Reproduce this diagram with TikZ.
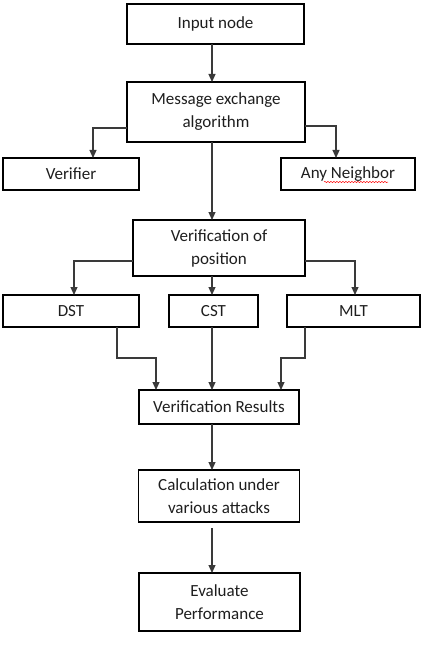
\documentclass[tikz,border=0pt]{standalone}
\usepackage{fontspec}
\setmainfont{Carlito}
\usetikzlibrary{arrows.meta,calc,decorations.pathmorphing}
\definecolor{txt}{HTML}{1E1E1E}
\definecolor{ln}{HTML}{3A3A3A}
\begin{document}
\begin{tikzpicture}[x=1pt,y=-1pt,
  box/.style={draw=black,line width=1.3pt,fill=white,inner sep=0pt,outer sep=0pt,
    align=center,text=txt,font=\fontsize{17}{23}\selectfont},
  arr/.style={draw=ln,line width=1.1pt,-{Triangle[length=8pt,width=7pt]}}]
\useasboundingbox (0,0) rectangle (423,655);
\coordinate (axis) at (212,0);
\node[box,minimum width=177pt,minimum height=40pt] (in) at (215.5,24) {Input node};
\node[box,minimum width=178pt,minimum height=60pt] (msg) at (216,112) {Message exchange\\algorithm};
\node[box,minimum width=136pt,minimum height=32pt] (ver) at (71,174) {Verifier};
\node[box,minimum width=134pt,minimum height=32pt] (any) at (348,174) {Any Neighbor};
\node[box,minimum width=172pt,minimum height=56pt] (vop) at (219,248) {Verification of\\position};
\node[box,minimum width=136pt,minimum height=32pt] (dst) at (71,311) {DST};
\node[box,minimum width=89pt,minimum height=32pt] (cst) at (213.5,311) {CST};
\node[box,minimum width=133pt,minimum height=32pt] (mlt) at (353.5,311) {MLT};
\node[box,minimum width=160pt,minimum height=34pt] (vr) at (219,407) {Verification Results};
\node[box,minimum width=161pt,minimum height=52pt] (calc) at (219,496) {Calculation under\\various attacks};
\node[box,minimum width=161pt,minimum height=58pt] (eval) at (219.5,602) {Evaluate\\Performance};
% spell-check underline
\draw[red,line width=0.5pt,decorate,decoration={snake,amplitude=0.6pt,segment length=3pt}]
  ($(any.center)+(-24,8)$) -- ($(any.center)+(40,8)$);
% connectors
\draw[arr] (in.south -| axis) -- (msg.north -| axis);
\draw[arr] ([yshift=-16pt]msg.west) -| ([xshift=22pt]ver.north);
\draw[arr] ([yshift=-14pt]msg.east) -| ([xshift=-12pt]any.north);
\draw[arr] (msg.south -| axis) -- (vop.north -| axis);
\draw[arr] ([yshift=-13pt]vop.west) -| ([xshift=3pt]dst.north);
\draw[arr] (vop.south -| axis) -- (cst.north -| axis);
\draw[arr] ([yshift=-13pt]vop.east) -| ([xshift=1.5pt]mlt.north);
\draw[arr] ([xshift=46pt]dst.south) -- ++(0,31) -| ([xshift=-63pt]vr.north);
\draw[arr] (cst.south -| axis) -- (vr.north -| axis);
\draw[arr] ([xshift=-48.5pt]mlt.south) -- ++(0,31) -| ([xshift=62pt]vr.north);
\draw[arr] (vr.south -| axis) -- (calc.north -| axis);
\draw[arr] ($(calc.south -| axis)+(0,6)$) -- (eval.north -| axis);
\end{tikzpicture}
\end{document}
